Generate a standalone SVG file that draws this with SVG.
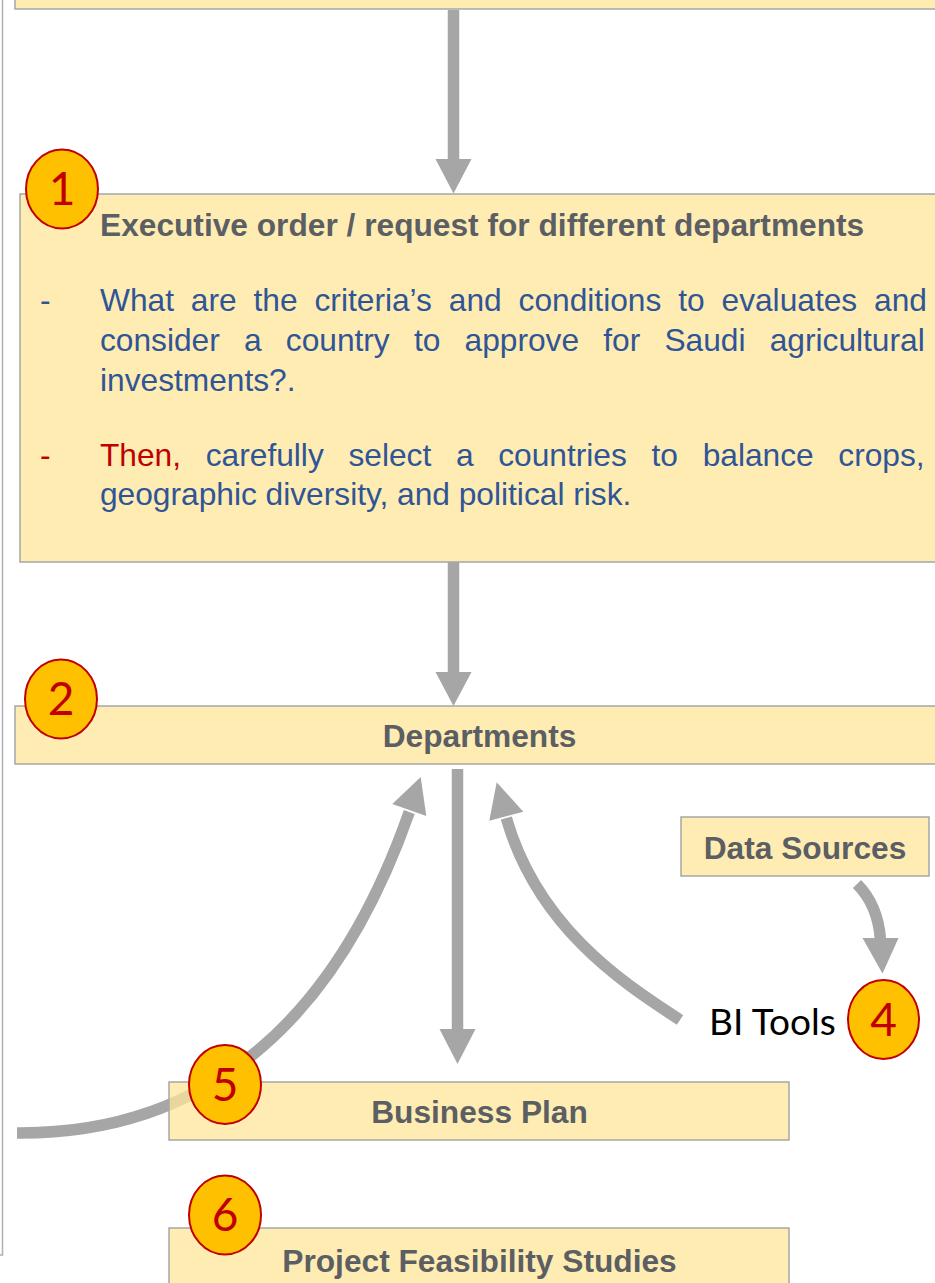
<svg xmlns="http://www.w3.org/2000/svg" width="935" height="1283" viewBox="0 0 935 1283">
<style>
.box{fill:#FFE699;fill-opacity:0.75;stroke:#A6A6A6;stroke-width:1.5}
.head{font-family:"Liberation Sans",Arial,sans-serif;font-weight:bold;font-size:31.7px;fill:#5B5F64}
.body{font-family:"Liberation Sans",Arial,sans-serif;font-size:31.7px;fill:#2F5597}
.red{fill:#C00000}
.badge ellipse{fill:#FFC000;stroke:#C00000;stroke-width:2}
.badge text{font-family:Lato,"Open Sans",sans-serif;font-size:46px;fill:#C00000;text-anchor:middle}
.shaft{fill:none;stroke:#A6A6A6;stroke-width:11.5}
.tip{fill:#A6A6A6}
.mid{text-anchor:middle}
</style>
<rect width="935" height="1283" fill="#FFFFFF"/>
<path d="M2.5,0 V1255 H0" fill="none" stroke="#B0B0B0" stroke-width="1.5"/>

<g id="connectors">
  <line class="shaft" x1="453.5" y1="10" x2="453.5" y2="160"/>
  <polygon class="tip" points="435.5,159 471.5,159 453.5,193.5"/>
  <line class="shaft" x1="453.5" y1="562" x2="453.5" y2="673"/>
  <polygon class="tip" points="435.5,672 471.5,672 453.5,706"/>
  <line class="shaft" x1="457.5" y1="769" x2="457.5" y2="1030"/>
  <polygon class="tip" points="439.5,1029 475.5,1029 457.5,1064"/>
  <path class="shaft" stroke-width="11" d="M17,1133 C267,1135 366,935.5 409.3,812"/>
  <polygon class="tip" points="392.3,804.1 426.3,815.9 420.7,777"/>
  <path class="shaft" stroke-width="11" d="M680,1020 C630.2,987 538.8,931.4 506.3,818"/>
  <polygon class="tip" points="489.3,820.7 523.3,811.7 496.7,782.3"/>
  <path class="shaft" stroke-width="11" d="M857,884 Q878,905 880.5,940"/>
  <polygon class="tip" points="862.5,938 898.5,938 882.5,973.5"/>
</g>

<g id="node-top">
  <rect class="box" x="15" y="-50" width="940" height="59"/>
</g>

<g id="node-executive">
  <rect class="box" x="20" y="194" width="930" height="368"/>
  <text class="head" x="100" y="236">Executive order / request for different departments</text>
  <text class="body" x="40" y="311">-</text>
  <text class="body" x="100" y="311" word-spacing="8.1">What are the criteria’s and conditions to evaluates and</text>
  <text class="body" x="100" y="351" word-spacing="15.4">consider a country to approve for Saudi agricultural</text>
  <text class="body" x="100" y="391">investments?.</text>
  <text class="body red" x="40" y="465.5">-</text>
  <text class="body" x="100" y="465.5" word-spacing="15.9"><tspan class="red">Then,</tspan> carefully select a countries to balance crops,</text>
  <text class="body" x="100" y="505">geographic diversity, and political risk.</text>
</g>

<g id="node-departments">
  <rect class="box" x="15" y="706" width="930" height="58"/>
  <text class="head mid" x="479.5" y="747">Departments</text>
</g>

<g id="node-data-sources">
  <rect class="box" x="681" y="817" width="248" height="59"/>
  <text class="head mid" x="805" y="859">Data Sources</text>
</g>

<g id="node-bi-tools">
  <text x="709" y="1035" font-family="Lato,'Open Sans',sans-serif" font-size="37px" fill="#000000">BI Tools</text>
</g>

<g id="node-business-plan">
  <rect class="box" x="169" y="1082" width="620" height="58"/>
  <text class="head mid" x="479.5" y="1123">Business Plan</text>
</g>

<g id="node-feasibility">
  <rect class="box" x="169" y="1228" width="620" height="60"/>
  <text class="head mid" x="479.5" y="1272">Project Feasibility Studies</text>
</g>

<g id="badge-1" class="badge"><ellipse cx="62" cy="189" rx="36" ry="39.5"/><text x="62" y="205">1</text></g>
<g id="badge-2" class="badge"><ellipse cx="61" cy="699" rx="36" ry="39.5"/><text x="61" y="715">2</text></g>
<g id="badge-4" class="badge"><ellipse cx="883.5" cy="1019.5" rx="35.5" ry="39.5"/><text x="883.5" y="1036">4</text></g>
<g id="badge-5" class="badge"><ellipse cx="225" cy="1084.5" rx="36" ry="39.5"/><text x="225" y="1100.5">5</text></g>
<g id="badge-6" class="badge"><ellipse cx="225" cy="1215" rx="36" ry="39.5"/><text x="225" y="1231">6</text></g>
</svg>
